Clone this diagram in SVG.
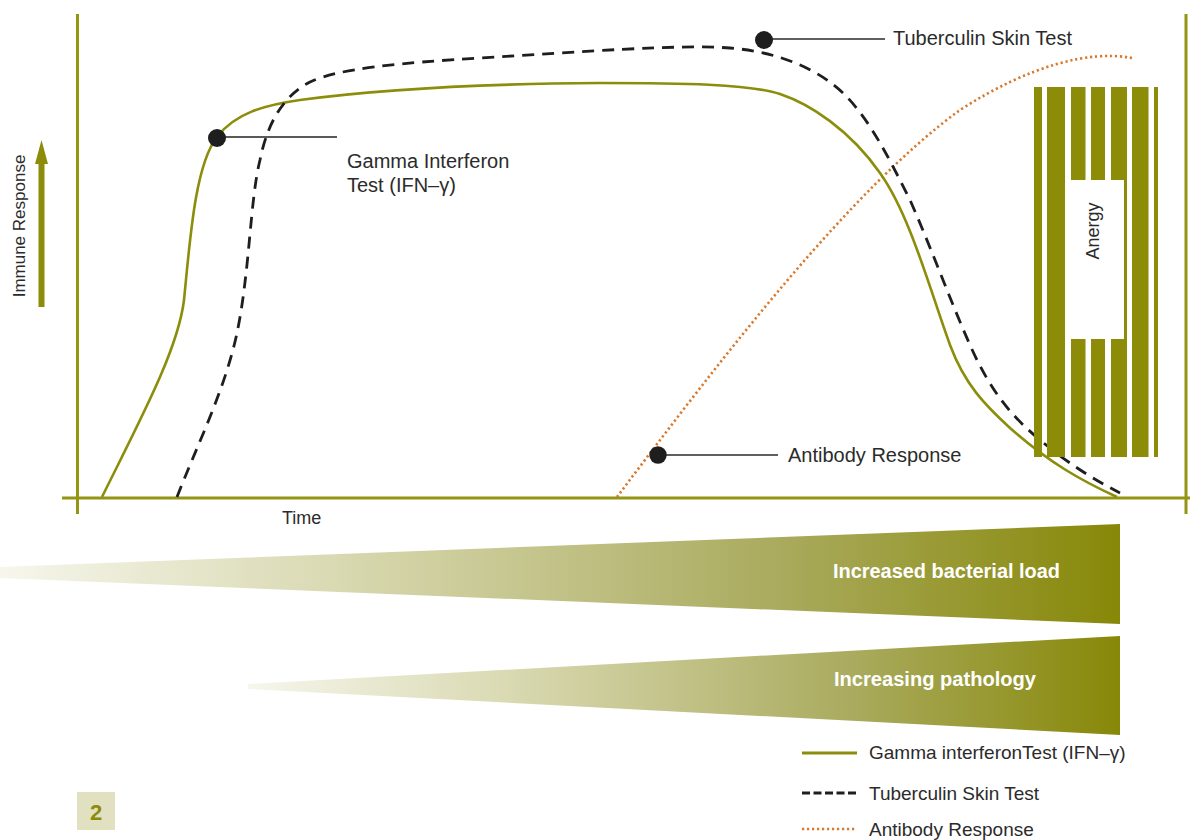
<svg xmlns="http://www.w3.org/2000/svg" width="1194" height="840" viewBox="0 0 1194 840">
<style>
.lbl{font-family:"Liberation Sans",Arial,sans-serif;font-size:20px;fill:#2b2b2b}
.leg{font-family:"Liberation Sans",Arial,sans-serif;font-size:19px;fill:#2b2b2b}
.ax{stroke:#949515;stroke-width:3;fill:none}
.ifn{stroke:#8b8d0b;stroke-width:2.6;fill:none}
.tst{stroke:#1e1e1e;stroke-width:2.8;fill:none;stroke-dasharray:12 8}
.ab{stroke:#d9782a;stroke-width:2.6;fill:none;stroke-dasharray:2.2 2.8}
.lead{stroke:#2b2b2b;stroke-width:1.5}
.dot{fill:#1e1e1e}
.bar{fill:#8c8c08}
.wt{font-family:"Liberation Sans",Arial,sans-serif;font-size:20px;font-weight:bold;fill:#ffffff;text-anchor:middle}
</style>
<defs>
<linearGradient id="g1" gradientUnits="userSpaceOnUse" x1="0" y1="0" x2="1120" y2="0">
<stop offset="0" stop-color="#f6f6ec"/>
<stop offset="0.3" stop-color="#d9d9b2"/>
<stop offset="0.7" stop-color="#a9aa5c"/>
<stop offset="1" stop-color="#878808"/>
</linearGradient>
<linearGradient id="g2" gradientUnits="userSpaceOnUse" x1="248" y1="0" x2="1120" y2="0">
<stop offset="0" stop-color="#f6f6ec"/>
<stop offset="0.3" stop-color="#d9d9b2"/>
<stop offset="0.7" stop-color="#a9aa5c"/>
<stop offset="1" stop-color="#878808"/>
</linearGradient>
</defs>
<rect width="1194" height="840" fill="#ffffff"/>

<g id="axes">
<line class="ax" x1="77.5" y1="14" x2="77.5" y2="514"/>
<line class="ax" x1="62" y1="498" x2="1190" y2="498"/>
<line class="ax" x1="1186" y1="14" x2="1186" y2="514"/>
<text class="lbl" x="282" y="524" style="font-size:18px">Time</text>
</g>

<g id="immune-response-axis">
<rect x="38.5" y="162" width="6" height="145" fill="#8c8c0a"/>
<polygon points="35,164 48,164 41.5,140" fill="#8c8c0a"/>
<text class="lbl" x="25" y="226" text-anchor="middle" transform="rotate(-90 25 226)" style="font-size:17px">Immune Response</text>
</g>

<g id="connectors">
<path class="ab" d="M617,497 C720,360 850,190 960,110 C1030,65 1090,50 1132,58"/>
<path class="ifn" d="M102,497 C140,420 178,350 184,300 C190,240 195,165 217,137 C235,113 265,105 300,100 C360,92 450,84 600,83 C680,83 750,84 780,94 C810,104 850,130 880,173 C910,215 930,290 950,345 C965,385 985,405 1010,428 C1050,463 1080,480 1117,497"/>
<path class="tst" d="M177,497 C195,450 225,390 237,333 C250,270 250,200 260,160 C268,120 285,95 310,82 C340,68 400,63 480,58 C580,52 680,44 730,48 C780,52 820,70 845,95 C870,120 890,160 910,200 C930,245 950,300 970,345 C990,390 1010,415 1040,440 C1070,465 1095,480 1120,493"/>
</g>

<g id="anergy">
<rect class="bar" x="1034" y="87" width="8" height="370"/>
<rect class="bar" x="1047" y="87" width="18" height="370"/>
<rect class="bar" x="1071" y="87" width="14.5" height="370"/>
<rect class="bar" x="1091" y="87" width="14" height="370"/>
<rect class="bar" x="1111" y="87" width="16" height="370"/>
<rect class="bar" x="1132" y="87" width="16.5" height="370"/>
<rect class="bar" x="1154" y="87" width="4" height="370"/>
<rect x="1065.5" y="180" width="58.5" height="159" fill="#ffffff"/>
<text class="lbl" x="1099" y="231" text-anchor="middle" transform="rotate(-90 1099 231)" style="font-size:18px">Anergy</text>
</g>

<g id="label-gamma">
<line class="lead" x1="217" y1="137" x2="337" y2="137" style="stroke:#5a5a5a;stroke-width:2"/>
<circle class="dot" cx="217" cy="138" r="9"/>
<text class="lbl" x="347" y="168">Gamma Interferon</text>
<text class="lbl" x="347" y="192">Test (IFN–γ)</text>
</g>

<g id="label-tuberculin">
<line class="lead" x1="764" y1="39" x2="885" y2="39"/>
<circle class="dot" cx="764" cy="40" r="9"/>
<text class="lbl" x="893" y="45">Tuberculin Skin Test</text>
</g>

<g id="label-antibody">
<line class="lead" x1="658" y1="455" x2="778" y2="455"/>
<circle class="dot" cx="658" cy="455" r="8.7"/>
<text class="lbl" x="788" y="462">Antibody Response</text>
</g>

<g id="wedge-bacterial">
<polygon points="0,567 1120,524 1120,624 0,578" fill="url(#g1)"/>
<text class="wt" x="946.5" y="578" textLength="227" lengthAdjust="spacingAndGlyphs">Increased bacterial load</text>
</g>

<g id="wedge-pathology">
<polygon points="248,684 1120,636 1120,735 248,689" fill="url(#g2)"/>
<text class="wt" x="935" y="686" textLength="202" lengthAdjust="spacingAndGlyphs">Increasing pathology</text>
</g>

<g id="legend">
<line x1="802" y1="753" x2="857" y2="753" class="ifn" style="stroke-width:3"/>
<text class="leg" x="869" y="759">Gamma interferonTest (IFN–γ)</text>
<line x1="802" y1="793" x2="857" y2="793" style="stroke:#1e1e1e;stroke-width:3;stroke-dasharray:8 3.5"/>
<text class="leg" x="869" y="800">Tuberculin Skin Test</text>
<line x1="802" y1="829" x2="857" y2="829" class="ab"/>
<text class="leg" x="869" y="836">Antibody Response</text>
</g>

<g id="page-number">
<rect x="77" y="792" width="38" height="38" fill="#e1e0c1"/>
<text x="96" y="820" text-anchor="middle" style="font-family:'Liberation Sans',Arial,sans-serif;font-size:22px;font-weight:bold;fill:#8c8c0a">2</text>
</g>
</svg>
